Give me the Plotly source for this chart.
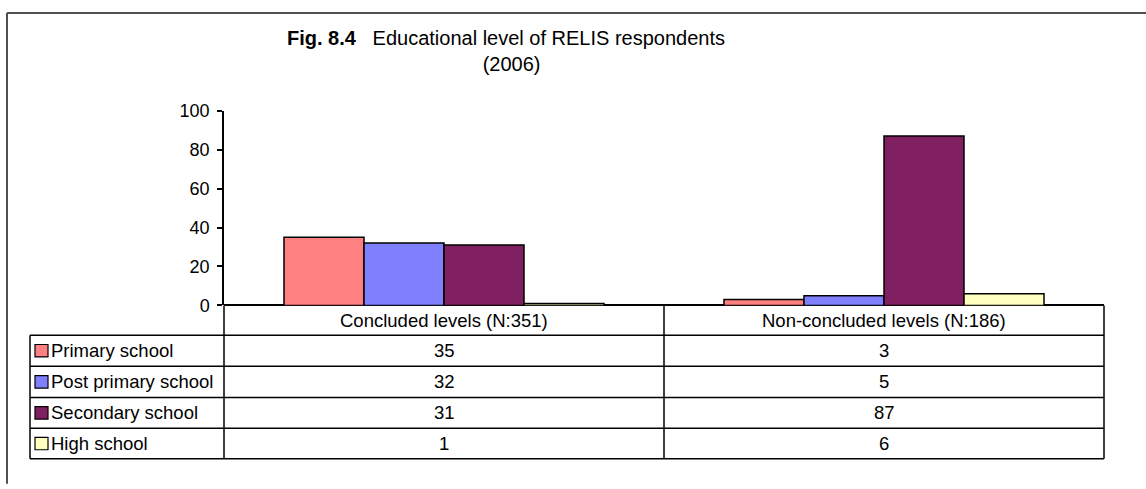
import plotly.graph_objects as go

# Data
categories = ["Concluded levels (N:351)", "Non-concluded levels (N:186)"]
series_names = ["Primary school", "Post primary school", "Secondary school", "High school"]
primary = [35, 3]
post_primary = [32, 5]
secondary = [31, 87]
high_school = [1, 6]
series_values = [primary, post_primary, secondary, high_school]
colors = ["#FF8080", "#8080FF", "#802060", "#FFFFC0"]
y_ticks = [0, 20, 40, 60, 80, 100]
title_text = ("<b>Fig. 8.4</b>&nbsp;&nbsp;&nbsp;Educational level of RELIS respondents"
              "<br>&nbsp;&nbsp;(2006)")

W, H = 1146, 489
FONT = "Liberation Sans, Arial, sans-serif"
FS = 18.5
TICK_FS = 18
TITLE_FS = 20


def px(x):
    return x / W


def py(y):
    return 1 - y / H


# Plot-area and table geometry (pixels)
PLOT_L, PLOT_R = 224, 1104
PLOT_T, PLOT_B = 105, 308
TABLE_L = 30
ROW_TOPS = [339, 371.5, 404, 436]
ROW_BOTTOM = 468

fig = go.Figure()
for name, vals, col in zip(series_names, series_values, colors):
    fig.add_trace(go.Bar(
        x=categories, y=vals, name=name,
        marker=dict(color=col, line=dict(color="black", width=1.5)),
        showlegend=False, hoverinfo="x+y+name",
    ))

shapes = []
annotations = []

# Chart-area frame (top and left edges visible)
shapes.append(dict(type="line", xref="paper", yref="paper",
                   x0=px(7), x1=px(W + 5), y0=py(3), y1=py(3),
                   line=dict(color="#505050", width=2)))
shapes.append(dict(type="line", xref="paper", yref="paper",
                   x0=px(7), x1=px(7), y0=py(3), y1=py(H + 5),
                   line=dict(color="#505050", width=2)))

TL = dict(color="black", width=1.5)
# Horizontal table lines
for yt in ROW_TOPS + [ROW_BOTTOM]:
    shapes.append(dict(type="line", xref="paper", yref="paper",
                       x0=px(TABLE_L), x1=px(PLOT_R), y0=py(yt), y1=py(yt), line=TL))
# Vertical table lines
shapes.append(dict(type="line", xref="paper", yref="paper",
                   x0=px(TABLE_L), x1=px(TABLE_L), y0=py(ROW_TOPS[0]), y1=py(ROW_BOTTOM), line=TL))
shapes.append(dict(type="line", xref="paper", yref="paper",
                   x0=px(PLOT_L), x1=px(PLOT_L), y0=py(PLOT_B), y1=py(ROW_BOTTOM), line=TL))
shapes.append(dict(type="line", xref="x", yref="paper",
                   x0=0.5, x1=0.5, y0=py(PLOT_B), y1=py(ROW_BOTTOM), line=TL))
shapes.append(dict(type="line", xref="paper", yref="paper",
                   x0=px(PLOT_R), x1=px(PLOT_R), y0=py(PLOT_B), y1=py(ROW_BOTTOM), line=TL))

# Column headers
for cat in categories:
    annotations.append(dict(x=cat, xref="x", y=py((PLOT_B + ROW_TOPS[0]) / 2), yref="paper",
                            text=cat, showarrow=False, xanchor="center", yanchor="middle",
                            font=dict(family=FONT, size=FS, color="black")))

# Rows: legend key, series name and values
row_bottoms = ROW_TOPS[1:] + [ROW_BOTTOM]
for name, vals, col, top, bot in zip(series_names, series_values, colors, ROW_TOPS, row_bottoms):
    ymid = (top + bot) / 2
    shapes.append(dict(type="rect", xref="paper", yref="paper",
                       x0=px(35), x1=px(48), y0=py(ymid - 6.5), y1=py(ymid + 6.5),
                       fillcolor=col, line=dict(color="black", width=1.2)))
    annotations.append(dict(x=px(49), xref="paper", y=py(ymid), yref="paper",
                            text=name, showarrow=False, xanchor="left", yanchor="middle",
                            font=dict(family=FONT, size=FS, color="black")))
    for cat, v in zip(categories, vals):
        annotations.append(dict(x=cat, xref="x", y=py(ymid), yref="paper",
                                text=str(v), showarrow=False, xanchor="center", yanchor="middle",
                                font=dict(family=FONT, size=FS, color="black")))

# Title (two centred lines)
annotations.append(dict(x=px(506), xref="paper", y=py(43), yref="paper",
                        text=title_text, showarrow=False, xanchor="center", yanchor="middle",
                        align="center",
                        font=dict(family=FONT, size=TITLE_FS, color="black")))

fig.update_layout(
    width=W, height=H,
    margin=dict(l=0, r=0, t=0, b=0),
    paper_bgcolor="white", plot_bgcolor="white",
    barmode="group", bargap=120 / 440, bargroupgap=0,
    shapes=shapes, annotations=annotations,
    xaxis=dict(domain=[px(PLOT_L), px(PLOT_R)], showticklabels=False, ticks="",
               showgrid=False, zeroline=False, showline=False, fixedrange=True),
    yaxis=dict(domain=[py(PLOT_B), py(PLOT_T)], range=[0, 100], tickvals=y_ticks,
               ticks="outside", ticklen=5, tickwidth=1.5, tickcolor="black",
               showline=True, linecolor="black", linewidth=1.5, showgrid=False,
               zeroline=True, zerolinecolor="black", zerolinewidth=1.5,
               ticklabelstandoff=4,
               tickfont=dict(family=FONT, size=TICK_FS, color="black"), fixedrange=True),
    font=dict(family=FONT, size=FS, color="black"),
)

fig.write_html("out.html", config={"displayModeBar": False})
